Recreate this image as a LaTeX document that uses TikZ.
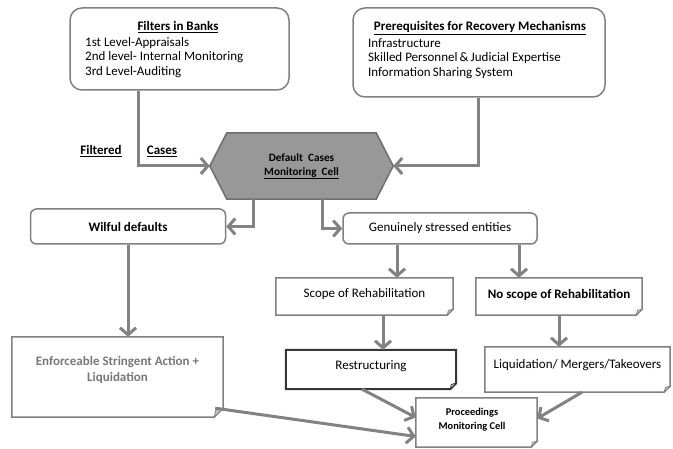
\documentclass[tikz,border=0pt]{standalone}
\usepackage{fontspec}
\setmainfont{Carlito}
\usetikzlibrary{arrows.meta,calc}
\definecolor{boxgray}{RGB}{128,128,128}
\definecolor{arrgray}{RGB}{130,130,130}
\definecolor{hexfill}{RGB}{152,152,152}
\definecolor{hexline}{RGB}{110,110,110}
\definecolor{darkline}{RGB}{55,55,55}
\definecolor{foldfill}{RGB}{200,200,200}
\definecolor{txtgray}{RGB}{120,120,120}
\newcommand\foldout[3][]{%
  \draw[boxline,#1] (#2.north west) -- (#2.north east) -- ([yshift=#3]#2.south east)
    -- ([xshift=-#3]#2.south east) -- (#2.south west) -- cycle;
  \draw[boxline,#1,line width=0.8pt,fill=foldfill] ([yshift=#3]#2.south east)
    -- ([xshift=-0.8*#3,yshift=0.8*#3]#2.south east) -- ([xshift=-#3]#2.south east) -- cycle;
}
\begin{document}
\begin{tikzpicture}[x=1pt,y=-1pt,
  boxline/.style={draw=boxgray,line width=1.5pt},
  shell/.style={inner sep=0pt,draw=none},
  rbox/.style={boxline,fill=white,inner sep=0pt,rounded corners=#1},
  txt/.style={inner sep=0pt,font=\fontsize{13}{14.5}\selectfont},
  btxt/.style={inner sep=0pt,font=\fontsize{13}{14.5}\selectfont\bfseries},
  arr/.style={draw=arrgray,line width=3pt,
    -{Straight Barb[length=7pt,width=16pt,line width=3pt]}},
]
\useasboundingbox (0,0) rectangle (673,449);

% top boxes
\node[rbox=12pt,minimum width=219pt,minimum height=82pt] (filt) at (179.5,49) {};
\node[btxt] (filtT) at (178,27) {\underline{Filters in Banks}};
\node[txt,align=left,anchor=west] (filtL) at (85,57.5)
  {1st Level-Appraisals\\2nd level- Internal Monitoring\\3rd Level-Auditing};

\node[rbox=12pt,minimum width=252pt,minimum height=89pt] (prereq) at (479,52.5) {};
\node[btxt] (preT) at (480,28)
  {\underline{Prerequisites for Recovery Mechanisms}};
\node[txt,align=left,anchor=west] (preL) at (368,58.5)
  {Infrastructure\\Skilled Personnel\,\&\,Judicial Expertise\\Information\,Sharing System};

% hexagon
\node[shell,minimum width=183pt,minimum height=66pt] (hex) at (301.5,166) {};
\draw[draw=hexline,line width=1.5pt,fill=hexfill] (hex.west) -- ([xshift=17pt]hex.north west)
  -- ([xshift=-17pt]hex.north east) -- (hex.east) -- ([xshift=-17pt]hex.south east)
  -- ([xshift=17pt]hex.south west) -- cycle;
\node[inner sep=0pt,align=center,font=\fontsize{11.2}{13.5}\selectfont\bfseries] (hexT) at (301.5,166.5)
  {Default\ \ Cases\\\underline{Monitoring\ \ Cell}};

% labels
\node[btxt] (lblF) at (101,151) {\underline{Filtered}};
\node[btxt] (lblC) at (162,151) {\underline{Cases}};

% second row
\node[rbox=6pt,minimum width=195pt,minimum height=35pt,
  font=\fontsize{13}{14.5}\selectfont\bfseries] (wil) at (128,226.5) {Wilful defaults};
\node[rbox=6pt,minimum width=194pt,minimum height=31pt,
  font=\fontsize{13}{14.5}\selectfont] (gen) at (440,228.5) {Genuinely stressed entities};

% folded boxes
\node[shell,minimum width=177pt,minimum height=37pt] (scope) at (364.5,296.5) {};
\foldout[fill=white]{scope}{6pt}
\node[txt] (scopeT) at (364.5,294.5) {Scope of Rehabilitation};

\node[shell,minimum width=166pt,minimum height=37pt] (nos) at (559,296.5) {};
\foldout[fill=white]{nos}{6pt}
\node[btxt] (nosT) at (559,294.5) {No scope of Rehabilitation};

\node[shell,minimum width=170pt,minimum height=39pt] (restr) at (371,369.5) {};
\foldout[fill=white,draw=darkline,line width=2pt]{restr}{6pt}
\node[txt] (restrT) at (371,366) {Restructuring};

\node[shell,minimum width=185pt,minimum height=45pt] (liq) at (577.5,369.5) {};
\foldout[fill=white]{liq}{6pt}
\node[txt] (liqT) at (577.5,365) {Liquidation/ Mergers/Takeovers};

\node[shell,minimum width=211pt,minimum height=80pt] (enf) at (117.5,377) {};
\foldout[fill=white]{enf}{9pt}
\node[inner sep=0pt,align=center,text=txtgray,font=\fontsize{13}{16}\selectfont\bfseries] (enfT) at (117.5,370)
  {Enforceable Stringent Action +\\Liquidation};

\node[shell,minimum width=121pt,minimum height=49pt] (proc) at (476.5,422.5) {};
\foldout[fill=white]{proc}{6pt}
\node[inner sep=0pt,align=center,font=\fontsize{10.4}{14}\selectfont\bfseries] (procT) at (472,420)
  {Proceedings\\Monitoring Cell};

% connectors
\coordinate (fA) at ([xshift=-41.5pt]filt.south);
\draw[arr] (fA) |- (hex.west);
\coordinate (pA) at ([xshift=-1pt]prereq.south);
\draw[arr] (pA) |- (hex.east);
\coordinate (hA) at ([xshift=-48.5pt]hex.south);
\draw[arr] (hA) |- (wil.east);
\coordinate (hB) at ([xshift=20.5pt]hex.south);
\draw[arr] (hB) |- (gen.west);
\coordinate (gA) at ([xshift=-43pt]gen.south);
\draw[arr] (gA) -- (gA |- scope.north);
\coordinate (gB) at ([xshift=79pt]gen.south);
\draw[arr] (gB) -- (gB |- nos.north);
\draw[arr] (wil.south) -- (wil.south |- enf.north);
\coordinate (sA) at ([xshift=18.5pt]scope.south);
\draw[arr] (sA) -- (sA |- restr.north);
\draw[arr] (nos.south) -- (nos.south |- liq.north);
\draw[arr] ([xshift=-9pt]restr.south) -- ([yshift=5pt]proc.west);
\draw[arr] ([xshift=4.5pt]liq.south) -- ([yshift=4pt]proc.east);
\draw[arr] ([xshift=-8pt,yshift=9pt]enf.south east) -- ([yshift=-14pt]proc.west);
\end{tikzpicture}
\end{document}
